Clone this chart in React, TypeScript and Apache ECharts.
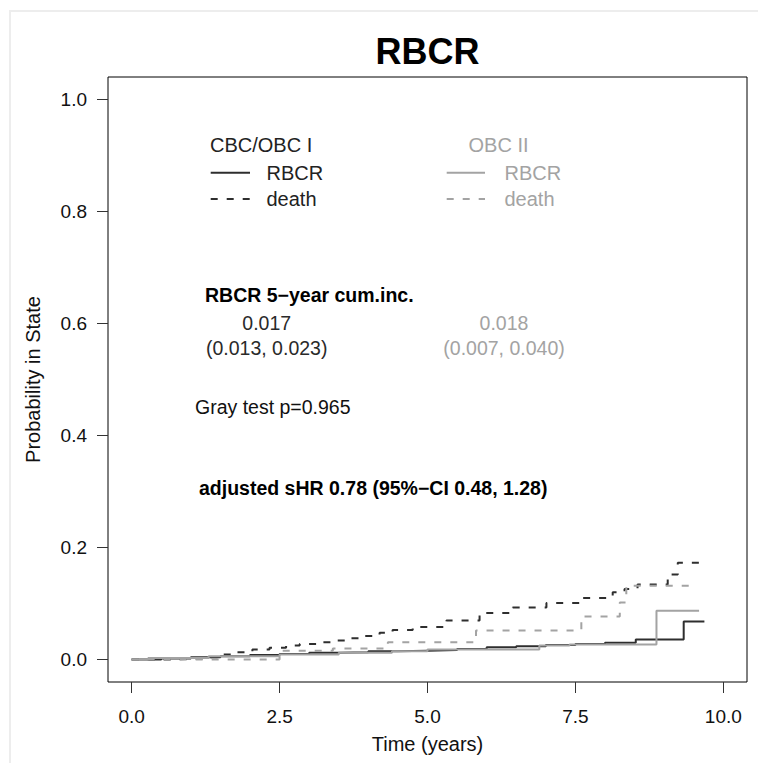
import React, { useEffect, useRef } from "react";
import * as echarts from "echarts";

// ---- data ----
const X_TICKS = [0, 2.5, 5, 7.5, 10];
const Y_TICKS = [0, 0.2, 0.4, 0.6, 0.8, 1.0];

// CBC/OBC I – RBCR (solid dark)
const cbcRbcrTime = [0, 0.5, 1.0, 1.5, 2.0, 2.5, 3.0, 3.5, 4.0, 4.5, 5.0, 5.5, 6.0, 6.5, 7.0, 7.5, 8.0, 8.52, 9.33, 9.68];
const cbcRbcrProb = [0, 0.002, 0.004, 0.006, 0.008, 0.010, 0.012, 0.013, 0.015, 0.016, 0.017, 0.019, 0.022, 0.024, 0.026, 0.028, 0.030, 0.036, 0.068, 0.068];

// CBC/OBC I – death (dashed dark)
const cbcDeathTime = [0, 0.5, 1.0, 1.26, 1.48, 1.7, 2.04, 2.33, 2.61, 2.84, 3.12, 3.4, 3.65, 3.91, 4.19, 4.41, 4.75, 5.32, 5.88, 6.44, 7.01, 7.57, 8.13, 8.33, 8.55, 9.06, 9.23, 9.68];
const cbcDeathProb = [0, 0.001, 0.002, 0.004, 0.009, 0.013, 0.018, 0.021, 0.025, 0.028, 0.031, 0.034, 0.038, 0.042, 0.048, 0.053, 0.058, 0.070, 0.083, 0.093, 0.101, 0.110, 0.120, 0.126, 0.134, 0.152, 0.173, 0.173];

// OBC II – RBCR (solid gray)
const obcRbcrTime = [0, 0.28, 1.3, 2.5, 3.5, 4.4, 5.0, 6.89, 7.4, 8.87, 9.59];
const obcRbcrProb = [0, 0.003, 0.006, 0.009, 0.012, 0.015, 0.018, 0.025, 0.027, 0.087, 0.087];

// OBC II – death (dashed gray)
const obcDeathTime = [0, 2.5, 3.4, 4.33, 5.82, 7.6, 8.25, 8.36, 9.54];
const obcDeathProb = [0, 0.016, 0.020, 0.031, 0.052, 0.077, 0.102, 0.132, 0.132];

const GROUPS = ["CBC/OBC I", "OBC II"];
const EVENTS = ["RBCR", "death"];
const CUMINC_TITLE = "RBCR 5\u2212year cum.inc.";
const CUMINC_EST = ["0.017", "0.018"];
const CUMINC_CI = ["(0.013, 0.023)", "(0.007, 0.040)"];
const GRAY_TEST = "Gray test p=0.965";
const SHR_TEXT = "adjusted sHR 0.78 (95%\u2212CI 0.48, 1.28)";

const DARK = "#2e2e2e";
const GRAY = "#a3a3a3";
const FONT = "'Liberation Sans', Arial, Helvetica, sans-serif";
const DASH = [7, 9];

const zip = (t: number[], p: number[]) => t.map((v, i) => [v, p[i]]);

export default function App() {
  const ref = useRef<HTMLDivElement>(null);
  useEffect(() => {
    if (!ref.current) return;
    const chart = echarts.init(ref.current, undefined, { renderer: "svg" });

    const txt = (text: string, x: number, y: number, opts: any = {}) => ({
      type: "text",
      x,
      y,
      silent: true,
      style: {
        text,
        fill: opts.fill || "#111",
        font: `${opts.bold ? "bold " : ""}${opts.size || 19.5}px ${FONT}`,
        align: opts.align || "left",
        verticalAlign: "middle",
      },
    });
    const seg = (x1: number, x2: number, y: number, color: string, dashed: boolean) => ({
      type: "line",
      silent: true,
      shape: { x1, y1: y, x2, y2: y },
      style: { stroke: color, lineWidth: 2, lineDash: dashed ? DASH : null },
    });

    const graphics: any[] = [
      {
        type: "rect",
        silent: true,
        z: -10,
        shape: { x: 10, y: 11, width: 800, height: 800 },
        style: { fill: "none", stroke: "#ededed", lineWidth: 2 },
      },
      txt("RBCR", 427.5, 51, { bold: true, size: 36, align: "center", fill: "#000" }),
      // legend
      txt(GROUPS[0], 210, 145, { size: 20, fill: "#222" }),
      seg(210.7, 250, 172.7, DARK, false),
      txt(EVENTS[0], 266.5, 173, { size: 20, fill: "#222" }),
      seg(210.7, 250, 199, DARK, true),
      txt(EVENTS[1], 266.5, 199, { size: 20, fill: "#222" }),
      txt(GROUPS[1], 468.5, 145, { size: 20, fill: GRAY }),
      seg(446.7, 485, 172.7, GRAY, false),
      txt(EVENTS[0], 504.5, 173, { size: 20, fill: GRAY }),
      seg(446.7, 485, 199, GRAY, true),
      txt(EVENTS[1], 504.5, 199, { size: 20, fill: GRAY }),
      // annotations
      txt(CUMINC_TITLE, 205, 295, { bold: true, fill: "#000" }),
      txt(CUMINC_EST[0], 266.7, 323, { align: "center", fill: "#2a2a2a" }),
      txt(CUMINC_CI[0], 266.7, 348, { align: "center", fill: "#2a2a2a" }),
      txt(CUMINC_EST[1], 504, 323, { align: "center", fill: GRAY }),
      txt(CUMINC_CI[1], 504, 348, { align: "center", fill: GRAY }),
      txt(GRAY_TEST, 195, 407, { fill: "#111" }),
      txt(SHR_TEXT, 199, 488, { bold: true, fill: "#000" }),
    ];

    const mkSeries = (name: string, t: number[], p: number[], color: string, dashed: boolean) => ({
      name,
      type: "line",
      step: "end",
      showSymbol: false,
      symbol: "none",
      data: zip(t, p),
      lineStyle: { color, width: 2, type: dashed ? DASH : "solid" },
      itemStyle: { color },
      silent: true,
    });

    chart.setOption({
      animation: false,
      backgroundColor: "#fff",
      textStyle: { fontFamily: FONT },
      grid: {
        left: 108,
        top: 77,
        right: 11,
        bottom: 81,
        show: true,
        borderColor: "#000",
        borderWidth: 1,
        backgroundColor: "transparent",
        containLabel: false,
      },
      xAxis: {
        type: "value",
        min: -0.4,
        max: 10.4,
        name: "Time (years)",
        nameLocation: "middle",
        nameGap: 52,
        nameTextStyle: { fontSize: 20, color: "#111", fontFamily: FONT },
        axisLine: { show: false, onZero: false },
        splitLine: { show: false },
        axisTick: { show: true, customValues: X_TICKS, length: 11, lineStyle: { color: "#333", width: 1 } },
        axisLabel: {
          customValues: X_TICKS,
          formatter: (v: number) => v.toFixed(1),
          margin: 25,
          fontSize: 19,
          color: "#111",
          fontFamily: FONT,
        },
      },
      yAxis: {
        type: "value",
        min: -0.04,
        max: 1.04,
        name: "Probability in State",
        nameLocation: "middle",
        nameGap: 65,
        nameTextStyle: { fontSize: 20, color: "#111", fontFamily: FONT },
        axisLine: { show: false, onZero: false },
        splitLine: { show: false },
        axisTick: { show: true, customValues: Y_TICKS, length: 11, lineStyle: { color: "#333", width: 1 } },
        axisLabel: {
          customValues: Y_TICKS,
          formatter: (v: number) => v.toFixed(1),
          margin: 21,
          fontSize: 19,
          color: "#111",
          fontFamily: FONT,
        },
      },
      series: [
        mkSeries("CBC/OBC I RBCR", cbcRbcrTime, cbcRbcrProb, DARK, false),
        mkSeries("CBC/OBC I death", cbcDeathTime, cbcDeathProb, DARK, true),
        mkSeries("OBC II RBCR", obcRbcrTime, obcRbcrProb, GRAY, false),
        mkSeries("OBC II death", obcDeathTime, obcDeathProb, GRAY, true),
      ],
      graphic: graphics,
    });

    return () => chart.dispose();
  }, []);

  return (
    <div
      ref={ref}
      style={{ position: "fixed", left: 0, top: 0, width: 758, height: 763 }}
    />
  );
}
